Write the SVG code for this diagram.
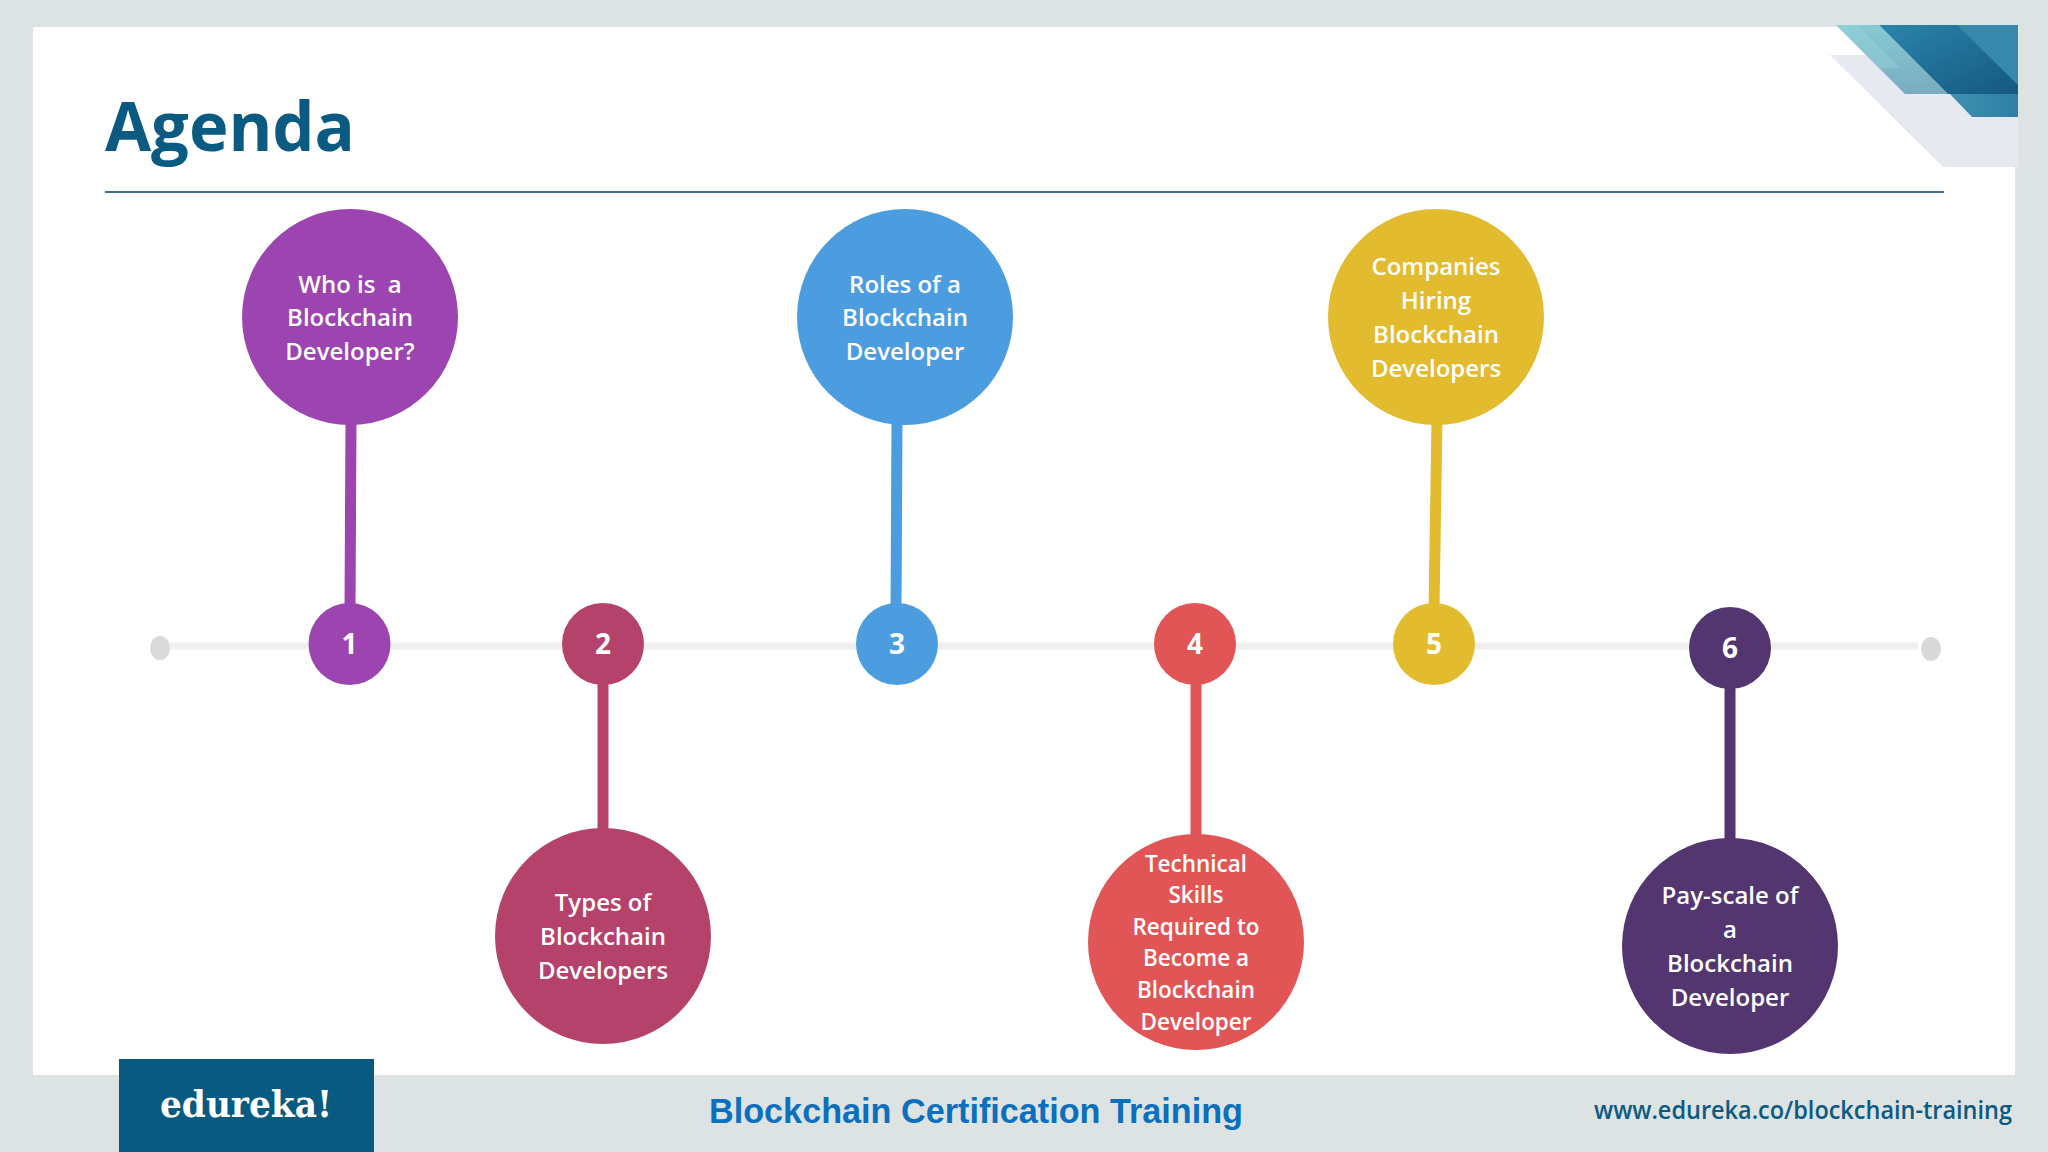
<svg xmlns="http://www.w3.org/2000/svg" width="2048" height="1152" viewBox="0 0 2048 1152">
<defs>
<style>
.lbl{font-family:"Open Sans","Liberation Sans",sans-serif;font-weight:600;font-size:24px;fill:#fff;text-anchor:middle}
.num{font-family:"Open Sans","Liberation Sans",sans-serif;font-weight:700;font-size:28px;fill:#fff;text-anchor:middle}
.conn{fill:none;stroke-width:11}
</style>
<linearGradient id="g1" x1="0" y1="0" x2="1" y2="1"><stop offset="0" stop-color="#2a85ad"/><stop offset="1" stop-color="#15587f"/></linearGradient>
<linearGradient id="g2" x1="0" y1="0" x2="1" y2="0"><stop offset="0" stop-color="#3f8fb0"/><stop offset="1" stop-color="#2f7fa5"/></linearGradient>
<linearGradient id="g3" x1="0" y1="0" x2="0" y2="1"><stop offset="0" stop-color="#86cbd3"/><stop offset="1" stop-color="#79abc0"/></linearGradient>
</defs>
<rect width="2048" height="1152" fill="#dde3e3"/>
<rect x="33" y="27" width="1982" height="1048" fill="#fff"/>
<g id="corner">
<polygon points="1830,55 2018,55 2018,167 1943,167" fill="#e6e9ef"/>
<polygon points="1836,25 1879,25 1948,94 1905,94" fill="url(#g3)"/>
<polygon points="1836,25 1857,25 1900,68 1879,68" fill="#9ad3dc" opacity=".45"/>
<polygon points="1879,25 2018,25 2018,94 1948,94" fill="url(#g1)"/>
<polygon points="1957,25 2018,25 2018,85" fill="#3789ac"/>
<polygon points="1950,94 2018,94 2018,117 1972,117" fill="url(#g2)"/>
</g>
<text x="105" y="151" font-family="'Open Sans','Liberation Sans',sans-serif" font-weight="700" font-size="68" fill="#0b5a82" textLength="250" lengthAdjust="spacingAndGlyphs">Agenda</text>
<rect x="105" y="191" width="1839" height="2" fill="#3f7187"/>
<g id="connectors">
<path class="conn" d="M170 646H1918" stroke="#efefef" style="stroke-width:7"/>
<path class="conn" stroke="#9c44b0" d="M351 420L350 610"/>
<path class="conn" stroke="#b5426b" d="M603 680V835"/>
<path class="conn" stroke="#4b9de0" d="M897 420L896 610"/>
<path class="conn" stroke="#e25556" d="M1196 680V840"/>
<path class="conn" stroke="#e3bb2f" d="M1437 420L1434 610"/>
<path class="conn" stroke="#53366f" d="M1730 680V845"/>
</g>
<g id="track-start"><ellipse cx="160" cy="648" rx="10" ry="12" fill="#d9d9d9"/></g>
<g id="track-end"><ellipse cx="1931" cy="649" rx="10" ry="12" fill="#d9d9d9"/></g>
<g id="n1"><circle cx="350" cy="317" r="108" fill="#9c44b0"/>
<text class="lbl" x="350" y="293" xml:space="preserve">Who is  a</text><text class="lbl" x="350" y="326">Blockchain</text><text class="lbl" x="350" y="360">Developer?</text></g>
<g id="m1"><circle cx="349.500" cy="644" r="41" fill="#9c44b0"/><text class="num" x="349.500" y="654">1</text></g>
<g id="n2"><circle cx="603" cy="936" r="108" fill="#b5426b"/>
<text class="lbl" x="603" y="911">Types of</text><text class="lbl" x="603" y="945">Blockchain</text><text class="lbl" x="603" y="979">Developers</text></g>
<g id="m2"><circle cx="603" cy="644" r="41" fill="#b5426b"/><text class="num" x="603" y="654">2</text></g>
<g id="n3"><circle cx="905" cy="317" r="108" fill="#4b9de0"/>
<text class="lbl" x="905" y="293">Roles of a</text><text class="lbl" x="905" y="326">Blockchain</text><text class="lbl" x="905" y="360">Developer</text></g>
<g id="m3"><circle cx="897" cy="644" r="41" fill="#4b9de0"/><text class="num" x="897" y="654">3</text></g>
<g id="n4"><circle cx="1196" cy="942" r="108" fill="#e25556"/>
<text class="lbl" style="font-size:22.500px" x="1196" y="872">Technical</text><text class="lbl" style="font-size:22.500px" x="1196" y="903">Skills</text><text class="lbl" style="font-size:22.500px" x="1196" y="935">Required to</text><text class="lbl" style="font-size:22.500px" x="1196" y="966">Become a</text><text class="lbl" style="font-size:22.500px" x="1196" y="998">Blockchain</text><text class="lbl" style="font-size:22.500px" x="1196" y="1030">Developer</text></g>
<g id="m4"><circle cx="1195" cy="644" r="41" fill="#e25556"/><text class="num" x="1195" y="654">4</text></g>
<g id="n5"><circle cx="1436" cy="317" r="108" fill="#e3bb2f"/>
<text class="lbl" x="1436" y="275">Companies</text><text class="lbl" x="1436" y="309">Hiring</text><text class="lbl" x="1436" y="343">Blockchain</text><text class="lbl" x="1436" y="377">Developers</text></g>
<g id="m5"><circle cx="1434" cy="644" r="41" fill="#e3bb2f"/><text class="num" x="1434" y="654">5</text></g>
<g id="n6"><circle cx="1730" cy="946" r="108" fill="#53366f"/>
<text class="lbl" x="1730" y="904">Pay-scale of</text><text class="lbl" x="1730" y="938">a</text><text class="lbl" x="1730" y="972">Blockchain</text><text class="lbl" x="1730" y="1006">Developer</text></g>
<g id="m6"><circle cx="1730" cy="648" r="41" fill="#53366f"/><text class="num" x="1730" y="658">6</text></g>
<g id="logo"><rect x="119" y="1059" width="255" height="93" fill="#085a80"/>
<text x="246" y="1117" font-family="'DejaVu Serif','Liberation Serif',serif" font-weight="700" font-size="37" fill="#fff" text-anchor="middle" textLength="172" lengthAdjust="spacingAndGlyphs">edureka!</text></g>
<text x="976" y="1123" font-family="'Liberation Sans',Arial,sans-serif" font-weight="700" font-size="35" fill="#0a70bd" text-anchor="middle" textLength="534" lengthAdjust="spacingAndGlyphs">Blockchain Certification Training</text>
<text x="1803" y="1119" font-family="'Open Sans','Liberation Sans',sans-serif" font-weight="600" font-size="25" fill="#0b5a82" text-anchor="middle" textLength="418" lengthAdjust="spacingAndGlyphs">www.edureka.co/blockchain-training</text>
</svg>
